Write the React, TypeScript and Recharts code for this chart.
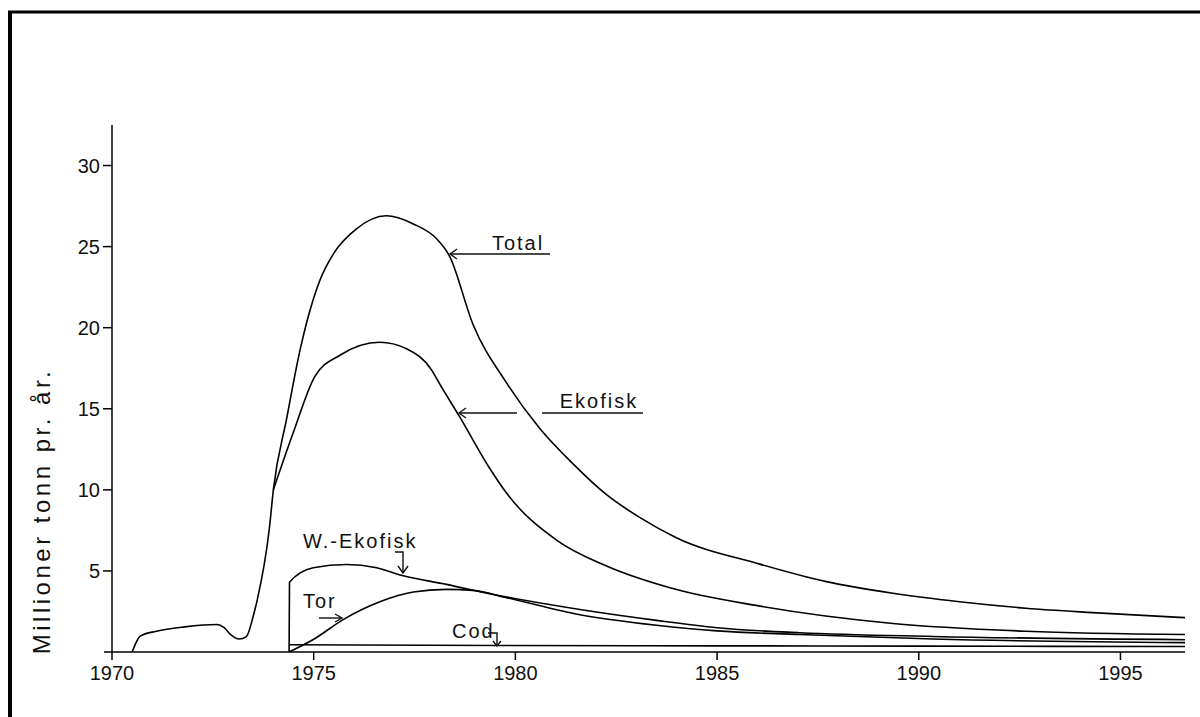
import React from "react";
import { LineChart, Line, XAxis, YAxis } from "recharts";

document.body.style.margin = "0";

type Pt = { year: number; v: number };

// Årlig produksjon, millioner tonn
const total: Pt[] = [
  { year: 1970.5, v: 0 },
  { year: 1970.6, v: 0.6 },
  { year: 1970.7, v: 0.98 },
  { year: 1971.1, v: 1.28 },
  { year: 1971.8, v: 1.55 },
  { year: 1972.6, v: 1.7 },
  { year: 1972.78, v: 1.5 },
  { year: 1972.95, v: 1.05 },
  { year: 1973.15, v: 0.8 },
  { year: 1973.33, v: 0.95 },
  { year: 1973.5, v: 2.2 },
  { year: 1973.6, v: 3.2 },
  { year: 1973.9, v: 7.6 },
  { year: 1974.0, v: 10.0 },
  { year: 1974.33, v: 14.4 },
  { year: 1974.66, v: 18.6 },
  { year: 1974.9, v: 21.0 },
  { year: 1975.15, v: 22.9 },
  { year: 1975.5, v: 24.6 },
  { year: 1976.06, v: 26.1 },
  { year: 1976.8, v: 26.9 },
  { year: 1977.47, v: 26.4 },
  { year: 1978.04, v: 25.5 },
  { year: 1978.37, v: 24.4 },
  { year: 1978.95, v: 20.2 },
  { year: 1979.78, v: 16.6 },
  { year: 1980.6, v: 13.8 },
  { year: 1981.43, v: 11.6 },
  { year: 1982.26, v: 9.7 },
  { year: 1983.08, v: 8.3 },
  { year: 1983.99, v: 7.05 },
  { year: 1986.06, v: 5.42 },
  { year: 1987.71, v: 4.34 },
  { year: 1989.36, v: 3.62 },
  { year: 1991.01, v: 3.1 },
  { year: 1992.66, v: 2.7 },
  { year: 1994.31, v: 2.43 },
  { year: 1996.6, v: 2.12 },
];

// tegnes fra der kurven skiller seg fra Total (før 1974 er de like)
const ekofisk: Pt[] = [
  { year: 1974.0, v: 10.0 },
  { year: 1974.49, v: 13.5 },
  { year: 1975.03, v: 17.0 },
  { year: 1975.65, v: 18.3 },
  { year: 1976.64, v: 19.1 },
  { year: 1977.3, v: 18.7 },
  { year: 1977.92, v: 17.4 },
  { year: 1978.13, v: 16.5 },
  { year: 1978.62, v: 14.5 },
  { year: 1979.37, v: 11.3 },
  { year: 1979.78, v: 9.8 },
  { year: 1981.02, v: 6.9 },
  { year: 1982.26, v: 5.3 },
  { year: 1983.83, v: 3.96 },
  { year: 1986.06, v: 2.83 },
  { year: 1989.36, v: 1.76 },
  { year: 1992.66, v: 1.28 },
  { year: 1996.6, v: 1.08 },
];

const wEkofisk: Pt[] = [
  { year: 1974.39, v: 0 },
  { year: 1974.4, v: 4.3 },
  { year: 1974.99, v: 5.2 },
  { year: 1975.82, v: 5.4 },
  { year: 1976.56, v: 5.2 },
  { year: 1977.22, v: 4.7 },
  { year: 1978.29, v: 4.17 },
  { year: 1979.45, v: 3.55 },
  { year: 1981.6, v: 2.62 },
  { year: 1983.5, v: 1.95 },
  { year: 1985.0, v: 1.5 },
  { year: 1987.05, v: 1.19 },
  { year: 1990.35, v: 0.96 },
  { year: 1996.6, v: 0.76 },
];

const tor: Pt[] = [
  { year: 1974.39, v: 0 },
  { year: 1974.99, v: 0.77 },
  { year: 1975.73, v: 2.0 },
  { year: 1976.64, v: 3.1 },
  { year: 1977.47, v: 3.7 },
  { year: 1978.29, v: 3.86 },
  { year: 1978.95, v: 3.8 },
  { year: 1979.78, v: 3.35 },
  { year: 1981.6, v: 2.3 },
  { year: 1983.5, v: 1.65 },
  { year: 1985.0, v: 1.3 },
  { year: 1987.05, v: 1.08 },
  { year: 1990.35, v: 0.8 },
  { year: 1996.6, v: 0.58 },
];

const cod: Pt[] = [
  { year: 1974.4, v: 0.45 },
  { year: 1979.6, v: 0.4 },
  { year: 1985.0, v: 0.38 },
  { year: 1990.0, v: 0.36 },
  { year: 1996.6, v: 0.34 },
];

const xTicks = [1970, 1975, 1980, 1985, 1990, 1995];
const yTicks = [5, 10, 15, 20, 25, 30];

const tickFont = '"Liberation Sans Narrow", "Liberation Sans", Arial, sans-serif';
const labelFont = '"Liberation Sans", Arial, sans-serif';

const series = [total, ekofisk, wEkofisk, tor, cod];

function Overlay() {
  const ink = "#111";
  const txt = { fontFamily: labelFont, fontSize: 20, fill: ink, letterSpacing: 2 };
  return (
    <svg
      width={1200}
      height={717}
      style={{ position: "absolute", left: 0, top: 0, pointerEvents: "none" }}
    >
      {/* ramme */}
      <line x1={8} y1={12} x2={1200} y2={12} stroke="#000" strokeWidth={3} />
      <line x1={10} y1={11} x2={10} y2={717} stroke="#000" strokeWidth={4} />
      {/* x-aksen stikker litt ut til venstre */}
      <line x1={104} y1={652} x2={112} y2={652} stroke="#000" strokeWidth={1.5} />

      {/* y-akse tittel */}
      <text
        x={50}
        y={511}
        transform="rotate(-90 50 511)"
        textAnchor="middle"
        style={{ fontFamily: labelFont, fontSize: 24, fill: ink, letterSpacing: 3.5 }}
      >
        Millioner tonn pr. år.
      </text>

      <g stroke={ink} strokeWidth={1.4} fill="none">
        {/* Total */}
        <line x1={450} y1={254} x2={550} y2={254} />
        <polyline points="457,249 450,254 457,259" />
        {/* Ekofisk */}
        <line x1={459} y1={413} x2={517} y2={413} />
        <line x1={542} y1={413} x2={643} y2={413} />
        <polyline points="466,408 459,413 466,418" />
        {/* W.-Ekofisk */}
        <polyline points="395,552 403,552 403,573" />
        <polyline points="398,566 403,573 408,566" />
        {/* Tor */}
        <line x1={319} y1={618} x2={342} y2={618} />
        <polyline points="335,614 342,618 335,622" />
        {/* Cod */}
        <polyline points="488,633 497,633 497,646" />
        <polyline points="493,641 497,646 501,641" />
      </g>

      <text x={518} y={250} textAnchor="middle" style={txt}>Total</text>
      <text x={599} y={408} textAnchor="middle" style={txt}>Ekofisk</text>
      <text x={303} y={548} style={txt}>W.-Ekofisk</text>
      <text x={303} y={608} style={txt}>Tor</text>
      <text x={452} y={638} style={txt}>Cod</text>
    </svg>
  );
}

export default function App() {
  return (
    <div style={{ position: "relative", width: 1200, height: 717, background: "#fff" }}>
      <LineChart
        width={1200}
        height={717}
        margin={{ top: 125, right: 15, bottom: 35, left: 52 }}
      >
        <XAxis
          type="number"
          dataKey="year"
          domain={[1970, 1996.6]}
          ticks={xTicks}
          allowDataOverflow
          height={30}
          tickSize={8}
          tickMargin={6}
          axisLine={{ stroke: "#000", strokeWidth: 1.5 }}
          tickLine={{ stroke: "#000", strokeWidth: 1.5 }}
          tick={{ fill: "#111", fontSize: 20, fontFamily: tickFont }}
        />
        <YAxis
          type="number"
          domain={[0, 32.5]}
          ticks={yTicks}
          allowDataOverflow
          width={60}
          tickSize={9}
          tickMargin={3}
          axisLine={{ stroke: "#000", strokeWidth: 1.5 }}
          tickLine={{ stroke: "#000", strokeWidth: 1.5 }}
          tick={{ fill: "#111", fontSize: 20, fontFamily: tickFont }}
        />
        {series.map((s, i) => (
          <Line
            key={i}
            data={s}
            dataKey="v"
            type="monotone"
            stroke="#000"
            strokeWidth={1.6}
            dot={false}
            activeDot={false}
            isAnimationActive={false}
          />
        ))}
      </LineChart>
      <Overlay />
    </div>
  );
}
